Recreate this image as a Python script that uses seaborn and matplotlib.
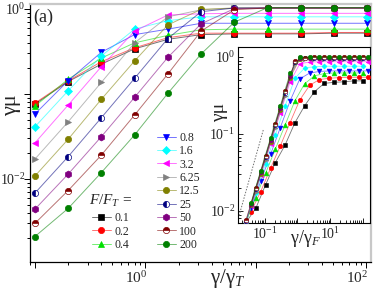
import numpy as np
import pandas as pd
import matplotlib
matplotlib.use("Agg")
import matplotlib.pyplot as plt
import matplotlib.colors as mcolors
import matplotlib.transforms as mtransforms
import seaborn as sns
from matplotlib.ticker import LogLocator, FuncFormatter, NullFormatter

sns.set_theme(style="white")
plt.rcParams["font.family"] = ["Liberation Serif", "DejaVu Serif"]
plt.rcParams["mathtext.fontset"] = "custom"
plt.rcParams["mathtext.rm"] = "Liberation Serif"
plt.rcParams["mathtext.it"] = "Liberation Serif:italic"
plt.rcParams["mathtext.bf"] = "Liberation Serif:bold"

# ---------------- data ----------------
force_labels = ["0.1", "0.2", "0.4", "0.8", "1.6", "3.2", "6.25", "12.5", "25", "50", "100", "200"]

gamma_main = [0.1, 0.2, 0.4, 0.8, 1.6, 3.2, 6.4, 12.8, 25.6, 51.2, 102.4]
mu_f0_1 = [0.076, 0.14, 0.225, 0.34, 0.44, 0.50, 0.51, 0.51, 0.51, 0.52, 0.52]
mu_f0_2 = [0.078, 0.143, 0.24, 0.35, 0.46, 0.52, 0.52, 0.52, 0.52, 0.53, 0.53]
mu_f0_4 = [0.072, 0.149, 0.265, 0.40, 0.49, 0.57, 0.58, 0.58, 0.58, 0.58, 0.58]
mu_f0_8 = [0.058, 0.143, 0.31, 0.50, 0.58, 0.68, 0.68, 0.68, 0.68, 0.68, 0.68]
mu_f1_6 = [0.041, 0.109, 0.28, 0.58, 0.73, 0.81, 0.81, 0.81, 0.81, 0.81, 0.81]
mu_f3_2 = [0.0265, 0.074, 0.21, 0.55, 0.85, 0.88, 0.89, 0.89, 0.89, 0.89, 0.89]
mu_f6_25 = [0.0171, 0.047, 0.137, 0.40, 0.81, 0.98, 1.02, 1.02, 1.02, 1.02, 1.02]
mu_f12_5 = [0.0108, 0.0293, 0.0867, 0.245, 0.65, 0.99, 1.03, 1.03, 1.03, 1.03, 1.03]
mu_f25 = [0.0068, 0.0183, 0.0526, 0.153, 0.45, 0.93, 1.03, 1.03, 1.03, 1.03, 1.03]
mu_f50 = [0.0044, 0.0114, 0.0315, 0.0914, 0.27, 0.67, 1.01, 1.03, 1.03, 1.03, 1.03]
mu_f100 = [0.0030, 0.0073, 0.0191, 0.0566, 0.172, 0.55, 0.98, 1.03, 1.03, 1.03, 1.03]
mu_f200 = [0.0021, 0.0045, 0.0119, 0.033, 0.102, 0.296, 0.70, 1.04, 1.04, 1.04, 1.04]

# inset (gamma / gamma_F)
gamma_in_a = [0.026, 0.052, 0.104, 0.208, 0.416, 0.832, 1.66, 3.33, 6.66, 13.3, 26.6, 53.2, 106.5]
gamma_in_b = [0.037, 0.074, 0.148, 0.296, 0.592, 1.18, 2.37, 4.74, 9.47, 18.9, 37.9, 75.8, 151.5]
in_f0_1 = [0.0071, 0.0108, 0.0218, 0.0425, 0.072, 0.14, 0.233, 0.355, 0.455, 0.469, 0.477, 0.49, 0.49]
in_f0_2 = [0.0098, 0.0179, 0.0358, 0.070, 0.141, 0.277, 0.43, 0.51, 0.53, 0.54, 0.545, 0.545, 0.545]
in_f0_4 = [0.0072, 0.0149, 0.0308, 0.0635, 0.131, 0.27, 0.45, 0.57, 0.61, 0.62, 0.62, 0.62, 0.62]
in_f0_8 = [0.0109, 0.0243, 0.0542, 0.121, 0.269, 0.52, 0.62, 0.65, 0.66, 0.66, 0.66, 0.66, 0.66]
in_f1_6 = [0.0072, 0.0172, 0.0409, 0.0973, 0.231, 0.53, 0.72, 0.75, 0.76, 0.76, 0.76, 0.76, 0.76]
in_f3_2 = [0.0116, 0.0294, 0.0743, 0.188, 0.475, 0.82, 0.86, 0.87, 0.87, 0.87, 0.87, 0.87, 0.87]
in_f6_25 = [0.0069, 0.0179, 0.0463, 0.12, 0.31, 0.84, 0.93, 0.94, 0.94, 0.94, 0.94, 0.94, 0.94]
in_f12_5 = [0.0118, 0.0306, 0.0798, 0.207, 0.54, 0.94, 0.96, 0.96, 0.96, 0.96, 0.96, 0.96, 0.96]
in_f25 = [0.0074, 0.0194, 0.0506, 0.132, 0.345, 0.86, 0.96, 0.97, 0.97, 0.97, 0.97, 0.97, 0.97]
in_f50 = [0.0122, 0.0319, 0.0836, 0.219, 0.574, 0.96, 0.98, 0.98, 0.98, 0.98, 0.98, 0.98, 0.98]
in_f100 = [0.0076, 0.0199, 0.052, 0.136, 0.357, 0.88, 0.98, 0.99, 0.99, 0.99, 0.99, 0.99, 0.99]
in_f200 = [0.0127, 0.0335, 0.0883, 0.233, 0.614, 0.99, 1.0, 1.0, 1.0, 1.0, 1.0, 1.0, 1.0]

guide_x = [0.0151, 0.0887]
guide_y = [0.008, 0.113]

main_series = [mu_f0_1, mu_f0_2, mu_f0_4, mu_f0_8, mu_f1_6, mu_f3_2,
               mu_f6_25, mu_f12_5, mu_f25, mu_f50, mu_f100, mu_f200]
inset_series = [in_f0_1, in_f0_2, in_f0_4, in_f0_8, in_f1_6, in_f3_2,
                in_f6_25, in_f12_5, in_f25, in_f50, in_f100, in_f200]
inset_grid = [gamma_in_a, gamma_in_b] * 6

# ---------------- styles ----------------
colors = ["#000000", "#ff0000", "#00e000", "#0000ff", "#00ffff", "#ff00ff",
          "#808080", "#808000", "#000080", "#800080", "#800000", "#008000"]
markers = ["s", "o", "^", "v", "D", "<", ">", "o", "o", "h", "o", "o"]
fills = ["full"] * 8 + ["left", "full", "top", "full"]
msizes = [4.3, 4.5, 4.8, 4.8, 3.6, 4.8, 4.8, 4.5, 4.5, 5.0, 4.5, 4.5]


def light(c, a=0.55):
    r, g, b = mcolors.to_rgb(c)
    return (r, g, b, a)


fig = plt.figure(figsize=(3.74, 2.95), dpi=100)
ax = fig.add_axes([29.5 / 374, 33 / 295, 341.5 / 374, 258 / 295])
ax.set_xscale("log")
ax.set_yscale("log")

handles = []
for i, ys in enumerate(main_series):
    df = pd.DataFrame({"x": gamma_main, "y": ys})
    sns.lineplot(data=df, x="x", y="y", ax=ax, estimator=None, sort=False,
                 color=light(colors[i]), lw=0.7, marker=markers[i],
                 markersize=msizes[i], markerfacecolor=colors[i],
                 markeredgecolor=colors[i], markeredgewidth=0.5,
                 fillstyle=fills[i], markerfacecoloralt="white",
                 legend=False, zorder=3 + i * 0.01)
    handles.append(ax.lines[-1])

ax.set_xlim(0.0895, 110.4)
ax.set_ylim(0.001056, 1.146)
ax.set_xlabel("")
ax.set_ylabel("")


def make_fmt(keep):
    def f(v, pos):
        e = int(round(np.log10(v)))
        if abs(np.log10(v) - e) < 1e-6 and e in keep:
            return r"$10^{%d}$" % e
        return ""
    return FuncFormatter(f)


ax.xaxis.set_major_locator(LogLocator(base=10, numticks=20))
ax.xaxis.set_minor_locator(LogLocator(base=10, subs=np.arange(2, 10), numticks=20))
ax.yaxis.set_major_locator(LogLocator(base=10, numticks=20))
ax.yaxis.set_minor_locator(LogLocator(base=10, subs=np.arange(2, 10), numticks=20))
ax.xaxis.set_major_formatter(make_fmt([0, 2]))
ax.yaxis.set_major_formatter(make_fmt([-2, 0]))
ax.xaxis.set_minor_formatter(NullFormatter())
ax.yaxis.set_minor_formatter(NullFormatter())
ax.tick_params(which="both", direction="out", bottom=True, left=True,
               top=False, right=False, color="black", width=0.7, pad=1.5)
ax.tick_params(axis="x", labelsize=11)
ax.tick_params(axis="y", labelsize=10, pad=-1.8)
ax.tick_params(which="major", length=4.5)
ax.tick_params(which="minor", length=2.5)
for s in ["left", "bottom"]:
    ax.spines[s].set_color("black")
    ax.spines[s].set_linewidth(0.9)
for s in ["top", "right"]:
    ax.spines[s].set_color("#c8c8c8")
    ax.spines[s].set_linewidth(1.6)

# shift x tick labels a little to the left as in the reference
xoff = mtransforms.ScaledTranslation(-9 / 100, 0, fig.dpi_scale_trans)
for lab in ax.xaxis.get_majorticklabels():
    lab.set_transform(lab.get_transform() + xoff)

ax.text(0.581, -0.02, r"γ/γ$_T$", transform=ax.transAxes, ha="center",
        va="top", fontsize=15)
ax.text(-0.053, 0.608, "γμ", transform=ax.transAxes, ha="center",
        va="center", rotation=90, fontsize=16)
ax.text(0.04, 0.948, "(a)", transform=ax.transAxes, ha="center",
        va="center", fontsize=13)

# legends
leg_kw = dict(frameon=False, fontsize=8.5, handlelength=1.6, handletextpad=0.3,
              labelspacing=0.12, borderpad=0.0, borderaxespad=0.0,
              loc="lower left", bbox_transform=fig.transFigure)
leg1 = ax.legend(handles[3:], force_labels[3:],
                 bbox_to_anchor=(157 / 374, 44 / 295), **leg_kw)
ax.add_artist(leg1)
leg2 = ax.legend(handles[:3], force_labels[:3],
                 bbox_to_anchor=(89 / 374, 44 / 295),
                 title=r"$F/F_T$ =", title_fontsize=11, **leg_kw)
leg2._legend_box.sep = 2

# ---------------- inset ----------------
axi = fig.add_axes([238 / 374, 72 / 295, 132 / 374, 176 / 295])
axi.set_xscale("log")
axi.set_yscale("log")
for i, ys in enumerate(inset_series):
    df = pd.DataFrame({"x": inset_grid[i], "y": ys})
    sns.lineplot(data=df, x="x", y="y", ax=axi, estimator=None, sort=False,
                 color=light(colors[i]), lw=0.6, marker=markers[i],
                 markersize=msizes[i] * 0.72, markerfacecolor=colors[i],
                 markeredgecolor=colors[i], markeredgewidth=0.4,
                 fillstyle=fills[i], markerfacecoloralt="white",
                 legend=False, zorder=3 + i * 0.01)
axi.plot(guide_x, guide_y, ls=(0, (1.5, 1.5)), color="#707070", lw=0.7)
axi.set_xlim(0.0148, 170)
axi.set_ylim(0.00698, 1.35)
axi.set_xlabel("")
axi.set_ylabel("")
axi.xaxis.set_major_locator(LogLocator(base=10, numticks=20))
axi.xaxis.set_minor_locator(LogLocator(base=10, subs=np.arange(2, 10), numticks=20))
axi.yaxis.set_major_locator(LogLocator(base=10, numticks=20))
axi.yaxis.set_minor_locator(LogLocator(base=10, subs=np.arange(2, 10), numticks=20))
axi.xaxis.set_major_formatter(make_fmt([-1, 1]))
axi.yaxis.set_major_formatter(make_fmt([-2, -1, 0]))
axi.xaxis.set_minor_formatter(NullFormatter())
axi.yaxis.set_minor_formatter(NullFormatter())
axi.tick_params(which="both", direction="in", bottom=True, left=True,
                top=False, right=False, color="black", width=0.6,
                labelsize=10, pad=2)
axi.tick_params(which="major", length=3.5)
axi.tick_params(which="minor", length=2)
for s in axi.spines.values():
    s.set_color("black")
    s.set_linewidth(0.8)
axi.text(0.51, -0.03, r"γ/γ$_F$", transform=axi.transAxes, ha="center",
         va="top", fontsize=13)
axi.text(-0.14, 0.63, "γμ", transform=axi.transAxes, ha="center",
         va="center", rotation=90, fontsize=14)

fig.savefig("out.png", dpi=100)
